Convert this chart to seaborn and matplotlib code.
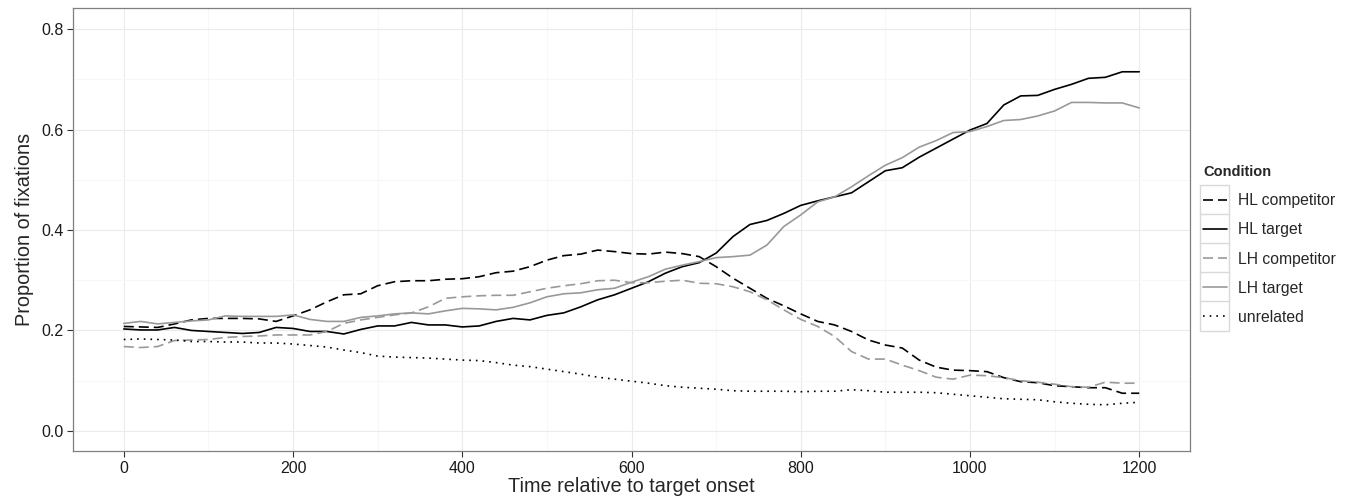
import numpy as np
import pandas as pd
import seaborn as sns
import matplotlib
matplotlib.use("Agg")
import matplotlib.pyplot as plt
from matplotlib.lines import Line2D
from matplotlib.patches import Rectangle
from matplotlib.legend_handler import HandlerLine2D

# time bins (ms relative to target onset)
time = list(range(0, 1201, 20))

hl_competitor = [0.208, 0.207, 0.206, 0.213, 0.221, 0.224, 0.224, 0.224, 0.223, 0.218,
                 0.229, 0.241, 0.257, 0.271, 0.273, 0.289, 0.297, 0.299, 0.299, 0.302,
                 0.303, 0.307, 0.315, 0.318, 0.327, 0.340, 0.349, 0.352, 0.360, 0.357,
                 0.353, 0.352, 0.356, 0.353, 0.347, 0.327, 0.304, 0.284, 0.264, 0.249,
                 0.233, 0.218, 0.211, 0.198, 0.181, 0.171, 0.165, 0.141, 0.127, 0.121,
                 0.120, 0.118, 0.106, 0.098, 0.096, 0.090, 0.088, 0.086, 0.086, 0.075,
                 0.075]
hl_target = [0.203, 0.201, 0.201, 0.206, 0.200, 0.198, 0.196, 0.194, 0.196, 0.206,
             0.204, 0.198, 0.198, 0.193, 0.202, 0.209, 0.209, 0.216, 0.211, 0.211,
             0.207, 0.209, 0.218, 0.224, 0.221, 0.230, 0.235, 0.247, 0.261, 0.271,
             0.284, 0.297, 0.314, 0.327, 0.335, 0.354, 0.387, 0.411, 0.419, 0.433,
             0.449, 0.458, 0.466, 0.474, 0.496, 0.518, 0.524, 0.545, 0.563, 0.581,
             0.599, 0.612, 0.649, 0.667, 0.668, 0.680, 0.690, 0.702, 0.704, 0.715,
             0.715]
lh_competitor = [0.168, 0.166, 0.168, 0.180, 0.181, 0.182, 0.186, 0.188, 0.189, 0.191,
                 0.191, 0.191, 0.198, 0.214, 0.221, 0.226, 0.231, 0.235, 0.247, 0.264,
                 0.267, 0.269, 0.270, 0.270, 0.277, 0.284, 0.289, 0.293, 0.299, 0.300,
                 0.295, 0.295, 0.298, 0.300, 0.294, 0.293, 0.287, 0.277, 0.261, 0.241,
                 0.222, 0.208, 0.188, 0.158, 0.143, 0.143, 0.131, 0.120, 0.107, 0.103,
                 0.111, 0.110, 0.106, 0.100, 0.097, 0.093, 0.088, 0.087, 0.097, 0.095,
                 0.095]
lh_target = [0.214, 0.218, 0.213, 0.216, 0.219, 0.221, 0.229, 0.228, 0.228, 0.228,
             0.231, 0.222, 0.218, 0.218, 0.226, 0.229, 0.233, 0.235, 0.233, 0.239,
             0.244, 0.243, 0.241, 0.246, 0.255, 0.267, 0.273, 0.275, 0.281, 0.284,
             0.296, 0.307, 0.322, 0.330, 0.337, 0.345, 0.347, 0.350, 0.370, 0.407,
             0.430, 0.456, 0.466, 0.486, 0.508, 0.529, 0.544, 0.565, 0.578, 0.594,
             0.596, 0.606, 0.618, 0.620, 0.627, 0.637, 0.654, 0.654, 0.653, 0.653,
             0.643]
unrelated = [0.182, 0.183, 0.182, 0.181, 0.178, 0.178, 0.177, 0.177, 0.175, 0.175,
             0.173, 0.170, 0.167, 0.161, 0.156, 0.149, 0.147, 0.146, 0.145, 0.143,
             0.141, 0.140, 0.136, 0.131, 0.128, 0.123, 0.118, 0.113, 0.107, 0.103,
             0.099, 0.095, 0.090, 0.087, 0.085, 0.083, 0.080, 0.079, 0.079, 0.079,
             0.078, 0.079, 0.079, 0.082, 0.080, 0.077, 0.077, 0.077, 0.076, 0.073,
             0.070, 0.067, 0.064, 0.063, 0.062, 0.058, 0.055, 0.053, 0.052, 0.055,
             0.057]

conditions = ["HL competitor", "HL target", "LH competitor", "LH target", "unrelated"]
series = [hl_competitor, hl_target, lh_competitor, lh_target, unrelated]

df = pd.concat([pd.DataFrame({"time": time, "prop": s, "Condition": c})
                for c, s in zip(conditions, series)], ignore_index=True)

colors = {"HL competitor": "black", "HL target": "black",
          "LH competitor": "#999999", "LH target": "#999999", "unrelated": "black"}
dash_map = {"HL competitor": (6, 3), "HL target": "",
            "LH competitor": (6, 3), "LH target": "", "unrelated": (1, 3)}

sns.set_style("white")
plt.rcParams["font.family"] = ["Liberation Sans", "DejaVu Sans"]

fig = plt.figure(figsize=(13.48, 4.99), dpi=100)
ax = fig.add_axes([73 / 1348, 1 - 451 / 499, (1190 - 73) / 1348, (451 - 8) / 499])

sns.lineplot(data=df, x="time", y="prop", hue="Condition", style="Condition",
             palette=colors, dashes=dash_map, hue_order=conditions,
             style_order=conditions, linewidth=1.2, ax=ax, legend=False)

ax.set_xlim(-60, 1260)
ax.set_ylim(-0.04, 0.842)
ax.set_xticks([0, 200, 400, 600, 800, 1000, 1200])
ax.set_xticks([100, 300, 500, 700, 900, 1100], minor=True)
ax.set_yticks([0.0, 0.2, 0.4, 0.6, 0.8])
ax.set_yticks([0.1, 0.3, 0.5, 0.7], minor=True)
ax.set_yticklabels(["0.0", "0.2", "0.4", "0.6", "0.8"])
ax.grid(which="major", color="#EBEBEB", linewidth=0.8)
ax.grid(which="minor", color="#F7F7F7", linewidth=0.8)
ax.set_axisbelow(True)
for sp in ax.spines.values():
    sp.set_color("#7F7F7F")
    sp.set_linewidth(0.9)
ax.tick_params(which="major", direction="out", length=4, width=0.8,
               color="#333333", labelsize=11.5, labelcolor="#1a1a1a", pad=3,
               bottom=True, left=True)
ax.tick_params(which="minor", length=0)
ax.set_xlabel("Time relative to target onset", fontsize=14.3, labelpad=1)
ax.set_ylabel("Proportion of fixations", fontsize=14.3, labelpad=5)


class BoxedLine(HandlerLine2D):
    # ggplot-style legend key: line inside a light bordered box
    def create_artists(self, legend, orig_handle, xdescent, ydescent,
                       width, height, fontsize, trans):
        box = Rectangle((-xdescent - 2, -ydescent - 7), width + 4, height + 14,
                        facecolor="white", edgecolor="#D9D9D9", linewidth=1.0,
                        transform=trans)
        arts = super().create_artists(legend, orig_handle, xdescent, ydescent,
                                      width, height, fontsize, trans)
        return [box] + arts


handles = []
for c in conditions:
    d = dash_map[c]
    h = Line2D([], [], color=colors[c], linewidth=1.2)
    if d != "":
        h.set_dashes(d)
    handles.append(h)

leg = ax.legend(handles=handles, labels=conditions, title="Condition",
                loc="upper left", bbox_to_anchor=(1200 / 1348, 1 - 162 / 499),
                bbox_transform=fig.transFigure, frameon=False, fontsize=11.3,
                title_fontproperties={"weight": "bold", "size": 10.5},
                handlelength=1.5, handletextpad=0.7, labelspacing=0.9,
                borderpad=0.2, borderaxespad=0,
                handler_map={Line2D: BoxedLine()})
leg._legend_box.align = "left"

fig.savefig("out.png", dpi=100)
